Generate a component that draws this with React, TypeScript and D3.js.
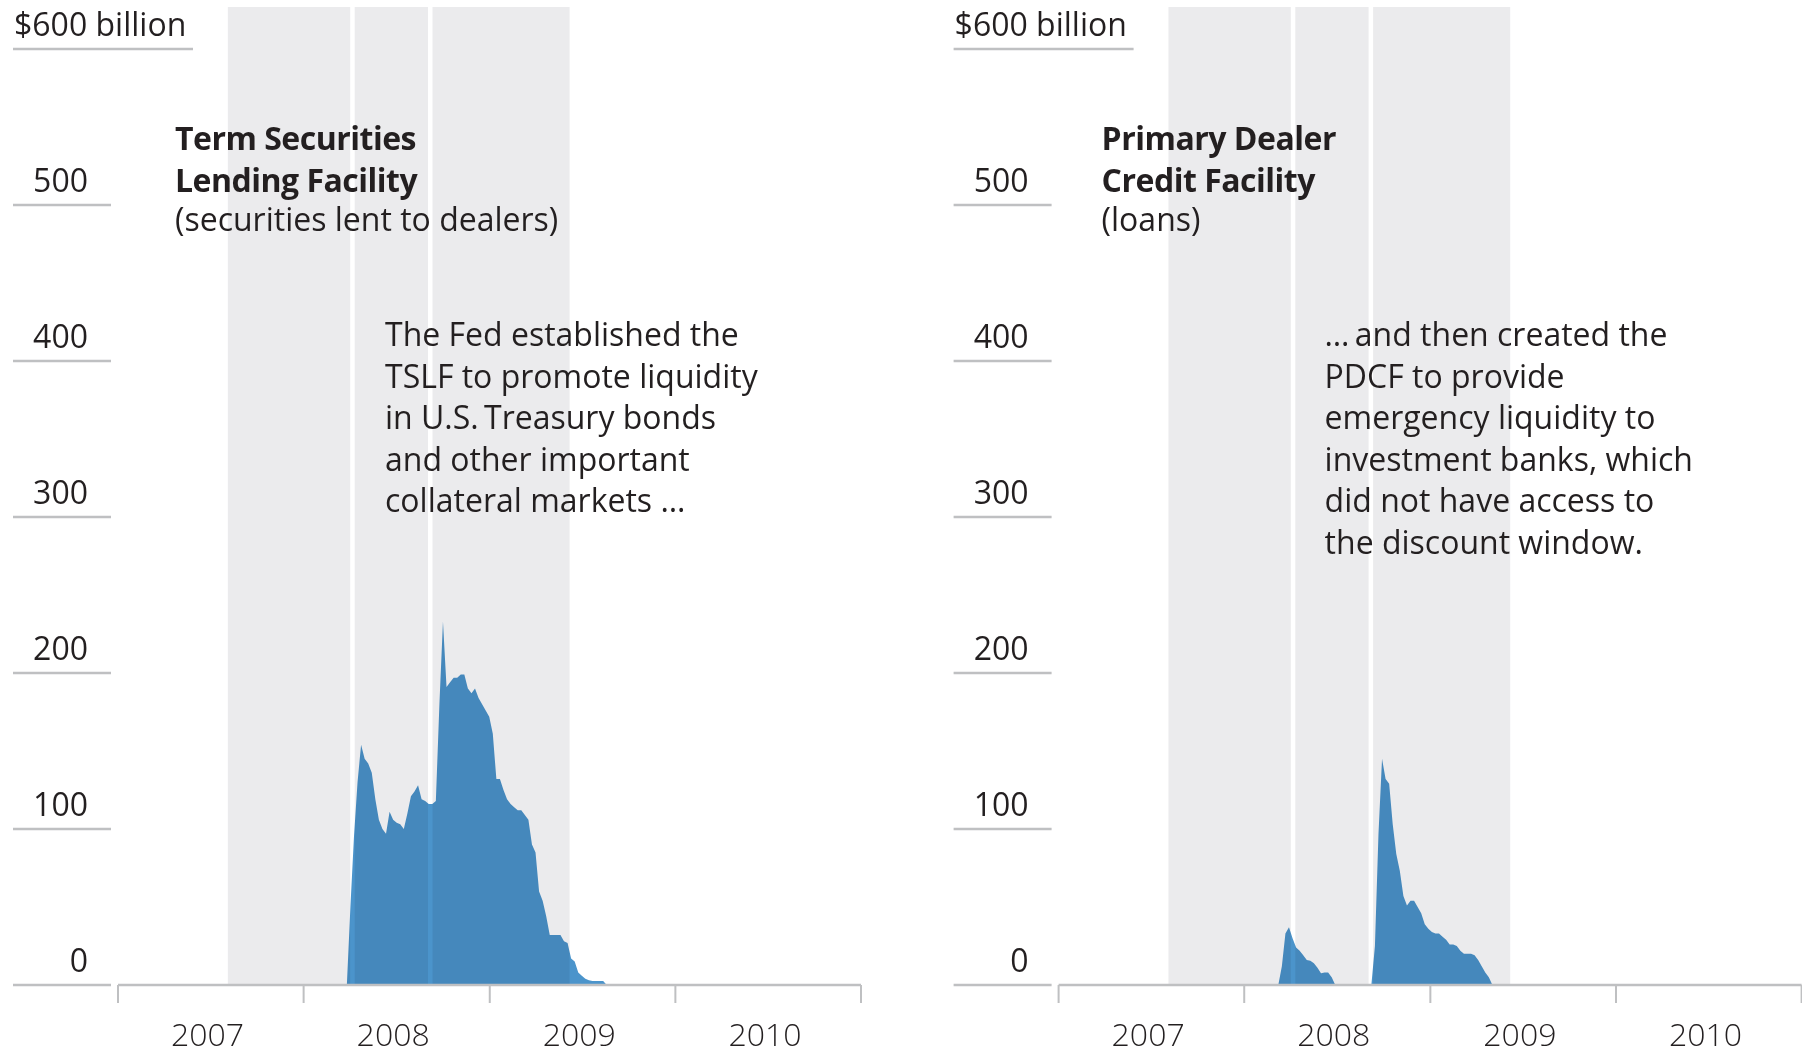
import React from "react";
import * as d3 from "d3";

// ---------- data ----------
const years = ["2007", "2008", "2009", "2010", "2011"];
const yTicks = [0, 100, 200, 300, 400, 500, 600];

// Weekly outstanding amounts, $ billion
const tslfStart = "2008-03-26";
const tslfValues = [
  0, 50, 95, 130, 154, 145, 142, 136, 119, 106, 100, 97, 111, 106, 104, 103, 100, 110,
  121, 124, 128, 119, 118, 116, 116, 118, 180, 233, 191, 194, 197, 197, 199, 199, 190,
  187, 190, 184, 180, 176, 172, 161, 132, 132, 125, 119, 116, 114, 112, 112, 109, 106,
  90, 85, 60, 54, 44, 32, 32, 32, 32, 28, 27, 17, 15, 8, 6, 4, 3, 2.6, 2.6, 2.6, 2.6, 0,
];
const pdcfStart1 = "2008-03-08";
const pdcfValues1 = [0, 12, 33, 37, 30, 24, 22, 19, 16, 15.6, 14, 11, 7.5, 8, 8, 5, 0];
const pdcfStart2 = "2008-09-07";
const pdcfValues2 = [
  0, 25, 97, 145, 132, 129, 103, 84, 73, 57, 51, 54, 54, 50, 46, 39, 36, 34, 33, 33, 31,
  29, 26, 26, 25, 22, 20, 20, 20, 19, 16, 12, 8, 5, 0,
];

// shaded crisis period and event markers
const bandStart = "2007-08-05";
const bandEnd = "2009-06-07";
const eventDates = ["2008-04-06", "2008-09-06"];

const tslfTitle = ["Term Securities", "Lending Facility"];
const tslfSub = "(securities lent to dealers)";
const tslfNote = [
  "The Fed established the",
  "TSLF to promote liquidity",
  "in U.S.\u2009Treasury bonds",
  "and other important",
  "collateral markets \u2026",
];
const pdcfTitle = ["Primary Dealer", "Credit Facility"];
const pdcfSub = "(loans)";
const pdcfNote = [
  "\u2026\u2009and then created the",
  "PDCF to provide",
  "emergency liquidity to",
  "investment banks, which",
  "did not have access to",
  "the discount window.",
];

// ---------- helpers ----------
const parse = d3.timeParse("%Y-%m-%d");
type Pt = { date: Date; value: number };
function weekly(start: string, values: number[]): Pt[] {
  const s = parse(start)!;
  return values.map((v, i) => ({ date: d3.timeDay.offset(s, 7 * i), value: v }));
}
const tslfData = weekly(tslfStart, tslfValues);
const pdcfData = [...weekly(pdcfStart1, pdcfValues1), ...weekly(pdcfStart2, pdcfValues2)];

const W = 1802;
const H = 1055;
const FONT = "'Open Sans', 'Noto Sans', sans-serif";
const TEXT = "#231f20";
const GRID = "#bfc0c2";
const BAND = "#ebebed";
const BLUE = "#4b94cb";

const x = d3
  .scaleTime()
  .domain([parse("2007-01-01")!, parse("2011-01-01")!])
  .range([118, 861]);
const y = d3.scaleLinear().domain([0, 600]).range([985, 49]);

const area = d3
  .area<Pt>()
  .x((d) => x(d.date))
  .y0(y(0))
  .y1((d) => y(d.value))
  .curve(d3.curveLinear);

type PanelProps = {
  dx: number;
  title: string[];
  sub: string;
  note: string[];
  titleX: number;
  noteX: number;
  data: Pt[];
};

function Panel({ dx, title, sub, note, titleX, noteX, data }: PanelProps) {
  const yearDates = years.map((yy) => parse(`${yy}-01-01`)!);
  const b0 = x(parse(bandStart)!);
  const b1 = x(parse(bandEnd)!);
  return (
    <g transform={`translate(${dx},0)`}>
      {/* shaded period */}
      <rect x={b0} y={7} width={b1 - b0} height={y(0) - 7} fill={BAND} />
      {eventDates.map((e) => (
        <line
          key={e}
          x1={x(parse(e)!)}
          x2={x(parse(e)!)}
          y1={7}
          y2={y(0)}
          stroke="#fff"
          strokeWidth={4.5}
        />
      ))}
      {/* area */}
      <path d={area(data) || ""} fill={BLUE} style={{ mixBlendMode: "multiply" }} />

      {/* y grid + labels */}
      {yTicks.map((t) => (
        <g key={t}>
          <line
            x1={13}
            x2={t === 600 ? 193 : 111}
            y1={y(t)}
            y2={y(t)}
            stroke={GRID}
            strokeWidth={2.5}
          />
          {t === 600 ? (
            <text x={14} y={y(t) - 13.5} fontSize={32} fill={TEXT} fontFamily={FONT}>
              $600 billion
            </text>
          ) : (
            <text
              x={88}
              y={y(t) - 13}
              fontSize={32}
              fill={TEXT}
              fontFamily={FONT}
              textAnchor="end"
            >
              {t}
            </text>
          )}
        </g>
      ))}

      {/* x axis */}
      <line x1={x(yearDates[0])} x2={x(yearDates[4])} y1={y(0)} y2={y(0)} stroke={GRID} strokeWidth={2.5} />
      {yearDates.map((d, i) => (
        <g key={i}>
          <line x1={x(d)} x2={x(d)} y1={y(0)} y2={1003} stroke={GRID} strokeWidth={2} />
          {i < 4 && (
            <text
              x={x(d) + 53}
              y={1046}
              fontSize={32}
              fontWeight={300}
              fill={TEXT}
              fontFamily={FONT}
            >
              {years[i]}
            </text>
          )}
        </g>
      ))}

      {/* title */}
      {title.map((t, i) => (
        <text
          key={t}
          x={titleX}
          y={150 + i * 41.5}
          fontSize={32}
          fontWeight={700}
          letterSpacing={-0.5}
          fill={TEXT}
          fontFamily={FONT}
        >
          {t}
        </text>
      ))}
      <text x={titleX} y={231} fontSize={32} fill={TEXT} fontFamily={FONT}>
        {sub}
      </text>

      {/* annotation */}
      {note.map((t, i) => (
        <text key={i} x={noteX} y={346 + i * 41.5} fontSize={32} fill={TEXT} fontFamily={FONT}>
          {t}
        </text>
      ))}
    </g>
  );
}

export default function App() {
  return (
    <div style={{ position: "absolute", left: 0, top: 0 }}>
      <svg width={W} height={H} style={{ display: "block", background: "#fff" }}>
        <Panel
          dx={0}
          title={tslfTitle}
          sub={tslfSub}
          note={tslfNote}
          titleX={175}
          noteX={385}
          data={tslfData}
        />
        <Panel
          dx={940.6}
          title={pdcfTitle}
          sub={pdcfSub}
          note={pdcfNote}
          titleX={161}
          noteX={384}
          data={pdcfData}
        />
      </svg>
    </div>
  );
}
